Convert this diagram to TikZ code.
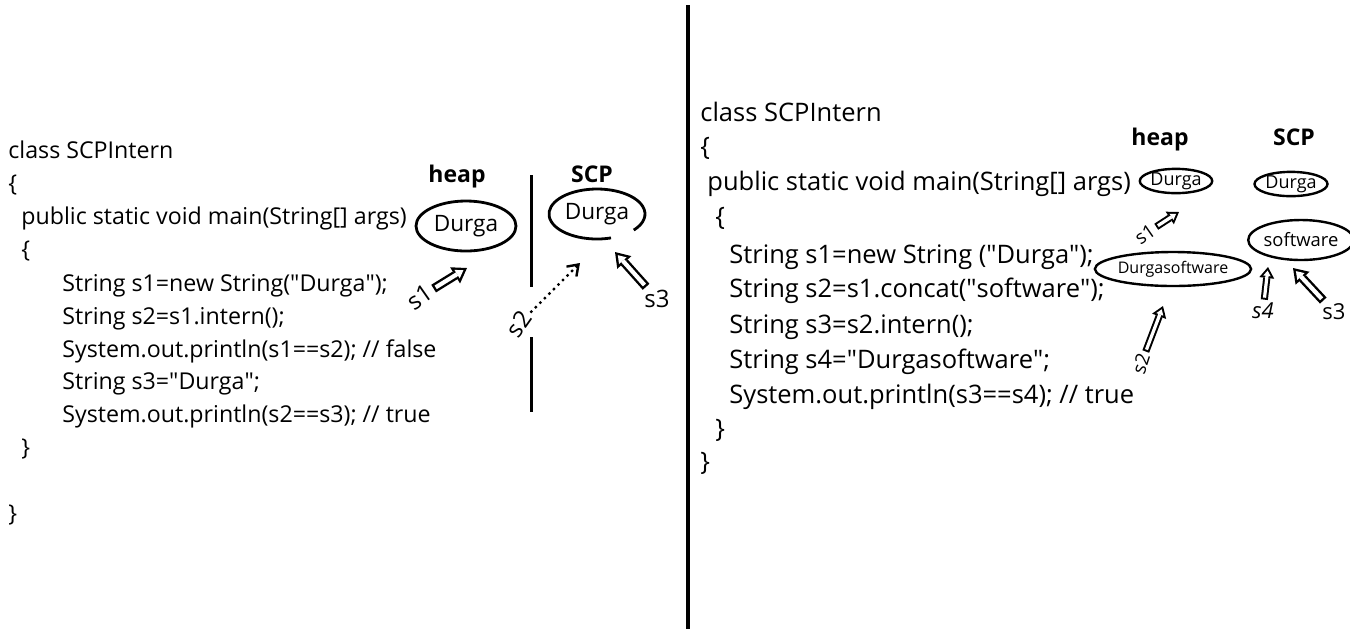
\documentclass[tikz,border=0pt]{standalone}
\usepackage{fontspec}
\setmainfont{Open Sans}
\usetikzlibrary{arrows.meta,shapes.geometric}
\newcommand{\dq}{\textquotedbl}

\tikzset{
  codeL/.style={anchor=base west, inner sep=0pt, font=\fontsize{11.6}{14}\selectfont},
  codeR/.style={anchor=base west, inner sep=0pt, font=\fontsize{12.75}{15}\selectfont},
  area/.style={anchor=base, inner sep=0pt, font=\bfseries\fontsize{11.5}{14}\selectfont},
  obj/.style={ellipse, draw, line width=1.4pt, inner sep=0pt},
  ref/.style={inner sep=1.5pt, font=\fontsize{12}{14}\selectfont},
  refsmall/.style={inner sep=1.5pt, font=\fontsize{9.5}{11}\selectfont},
  % hollow block arrow: black body, white inside
  ptr/.style={line width=4.5pt, -{Triangle[length=7pt, width=9.5pt, line width=0pt]},
    postaction={draw, white, line width=2.1pt, shorten >=2.13pt, shorten <=1.2pt,
      -{Triangle[length=3.7pt, width=5pt, line width=0pt]}}},
  ptrsmall/.style={line width=3.6pt, -{Triangle[length=5.5pt, width=7.5pt, line width=0pt]},
    postaction={draw, white, line width=1.6pt, shorten >=1.78pt, shorten <=1pt,
      -{Triangle[length=2.7pt, width=3.7pt, line width=0pt]}}},
}

\begin{document}
\begin{tikzpicture}[x=0.5pt, y=-0.5pt]
  \useasboundingbox (0,0) rectangle (1350,629);

  % left program
  \node[codeL] (l1) at (8,158) {class SCPIntern};
  \node[codeL] (l2) at (8,191) {\{};
  \node[codeL] (l3) at (21,224) {public static void main(String[] args)};
  \node[codeL] (l4) at (21,257) {\{};
  \node[codeL] (l5) at (62,291) {String s1=new String(\dq Durga\dq);};
  \node[codeL] (l6) at (62,324) {String s2=s1.intern();};
  \node[codeL] (l7) at (62,357) {System.out.println(s1==s2); // false};
  \node[codeL] (l8) at (62,389) {String s3=\dq Durga\dq;};
  \node[codeL] (l9) at (62,422) {System.out.println(s2==s3); // true};
  \node[codeL] (l10) at (21,455) {\}};
  \node[codeL] (l11) at (8,521) {\}};

  % left memory
  \node[area] (heapL) at (457,182) {heap};
  \node[area] (scpL) at (592,182) {SCP};
  \node[obj, minimum width=50pt, minimum height=25pt, font=\fontsize{11.3}{14}\selectfont] (hdL) at (466,226) {Durga};
  \node[inner sep=0pt, font=\fontsize{11.3}{14}\selectfont] (sdL) at (597,214) {Durga};
  \draw[line width=1.4pt] (sdL.center) ++(73:48 and 25) arc[start angle=73, end angle=400, x radius=48, y radius=25];
  \draw[line width=1.5pt] (531,175) -- (531,287);
  \draw[line width=1.5pt] (531,337) -- (531,412);

  \coordinate (t1) at (467,268);
  \coordinate (t2) at (580,263);
  \coordinate (t3) at (615,252);
  \node[ref, rotate=35] (s1L) at (420,297) {s1};
  \node[ref, rotate=55] (s2L) at (519,324) {s2};
  \node[ref] (s3L) at (657,299) {s3};
  \draw[ptr] (s1L) -- (t1);
  \draw[line width=1.2pt, dotted, -{Straight Barb[length=5pt, width=7pt]}] (s2L) -- (t2);
  \draw[ptr] (s3L) -- (t3);

  % divider
  \draw[line width=2pt] (688,5) -- (688,629);

  % right program
  \node[codeR] (r1) at (700,121) {class SCPIntern};
  \node[codeR] (r2) at (700,155) {\{};
  \node[codeR] (r3) at (707,190) {public static void main(String[] args)};
  \node[codeR] (r4) at (715,225) {\{};
  \node[codeR] (r5) at (729,263) {String s1=new String (\dq Durga\dq);};
  \node[codeR] (r6) at (729,297) {String s2=s1.concat(\dq software\dq);};
  \node[codeR] (r7) at (729,333) {String s3=s2.intern();};
  \node[codeR] (r8) at (729,368) {String s4=\dq Durgasoftware\dq;};
  \node[codeR] (r9) at (729,403) {System.out.println(s3==s4); // true};
  \node[codeR] (r10) at (715,437) {\}};
  \node[codeR] (r11) at (700,470) {\}};

  % right memory
  \node[area] (heapR) at (1160,145) {heap};
  \node[area] (scpR) at (1294,145) {SCP};
  \node[obj, line width=1.2pt, minimum width=36pt, minimum height=12pt, font=\fontsize{9}{11}\selectfont] (hdR) at (1176,181) {Durga};
  \node[obj, line width=1.2pt, minimum width=66.5pt, minimum height=17pt, font=\fontsize{8}{10}\selectfont] (hdsR) at (1173,269) {Durgasoftware};
  \node[obj, line width=1.2pt, minimum width=36.5pt, minimum height=12pt, font=\fontsize{9}{11}\selectfont] (sdR) at (1291,184) {Durga};
  \node[obj, line width=1.2pt, minimum width=43.5pt, minimum height=20pt, font=\fontsize{9.2}{11}\selectfont] (ssR) at (1301,240) {software};

  \coordinate (u1) at (1179,212);
  \coordinate (u2) at (1163,306);
  \coordinate (u3) at (1293,268);
  \coordinate (u4) at (1268,267);
  \node[refsmall, rotate=35] (s1R) at (1145,234) {s1};
  \node[refsmall, rotate=72] (s2R) at (1141,364) {s2};
  \node[ref, font=\itshape\fontsize{11}{13}\selectfont] (s4R) at (1263,311) {s4};
  \node[ref, font=\fontsize{11}{13}\selectfont] (s3R) at (1334,312) {s3};
  \draw[ptrsmall] (s1R) -- (u1);
  \draw[ptrsmall] (s2R) -- (u2);
  \draw[ptrsmall] (s4R) -- (u4);
  \draw[ptr] (s3R) -- (u3);
\end{tikzpicture}
\end{document}
